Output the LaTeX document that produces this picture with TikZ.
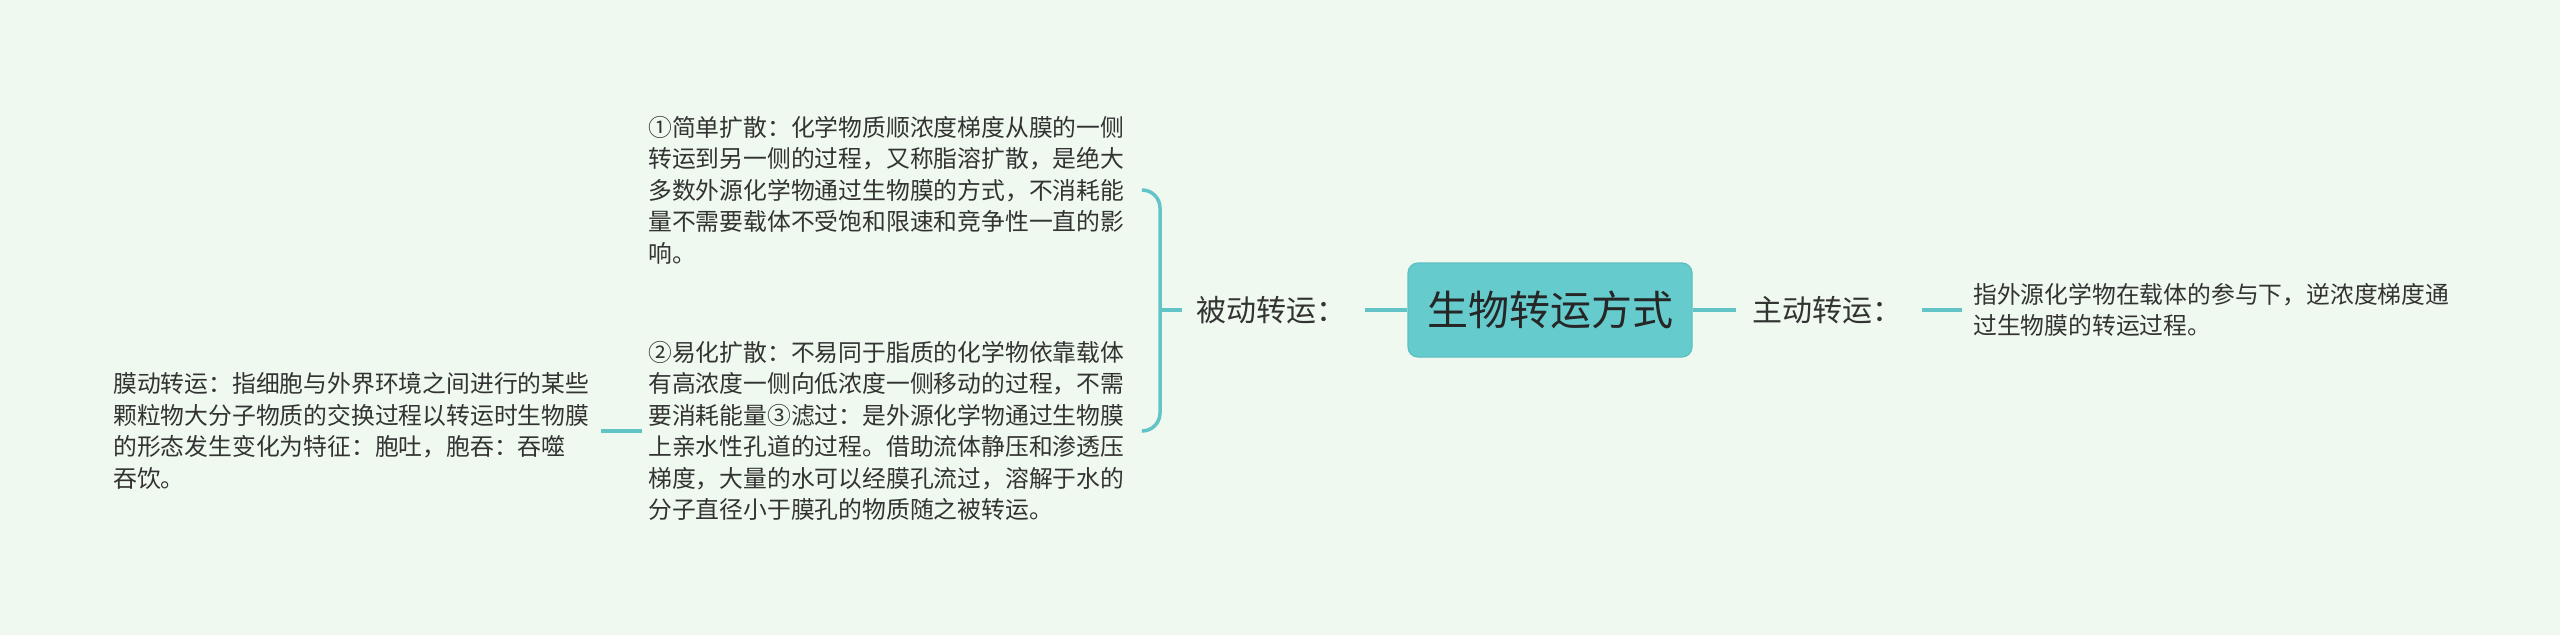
\documentclass[tikz,border=0pt]{standalone}
\usepackage{fontspec}
\setmainfont{Noto Sans CJK SC}
\definecolor{bgc}{HTML}{EFF9EF}
\definecolor{linec}{HTML}{63C4C8}
\definecolor{rootfill}{HTML}{66CBCD}
\definecolor{rootdraw}{HTML}{5CC0C3}
\definecolor{txt}{HTML}{333333}
\begin{document}
\begin{tikzpicture}[x=1pt,y=-1pt,
  conn/.style={draw=linec, line width=3.5pt},
  body/.style={inner sep=0pt, align=left, text=txt, font=\fontsize{23.8}{31.5}\selectfont},
  branch/.style={inner sep=0pt, text=txt, font=\fontsize{30}{36}\selectfont},
  rootbox/.style={fill=rootfill, draw=rootdraw, line width=1.2pt, rounded corners=10pt,
    minimum width=284pt, minimum height=94pt, inner sep=0pt, text=black!85,
    font=\fontsize{41}{48}\selectfont}
]
\fill[bgc] (0,0) rectangle (2560,635);
\useasboundingbox (0,0) rectangle (2560,635);

\node[rootbox] (root) at (1550,310) {生物转运方式};
\node[branch, anchor=west] (passive) at (1196,310) {被动转运：};
\node[branch, anchor=west] (active) at (1752,310) {主动转运：};

\node[body, anchor=west] (t1) at (648,190) {①简单扩散：化学物质顺浓度梯度从膜的一侧\\转运到另一侧的过程，又称脂溶扩散，是绝大\\多数外源化学物通过生物膜的方式，不消耗能\\量不需要载体不受饱和限速和竞争性一直的影\\响。};
\node[body, anchor=west] (t2) at (648,431) {②易化扩散：不易同于脂质的化学物依靠载体\\有高浓度一侧向低浓度一侧移动的过程，不需\\要消耗能量③滤过：是外源化学物通过生物膜\\上亲水性孔道的过程。借助流体静压和渗透压\\梯度，大量的水可以经膜孔流过，溶解于水的\\分子直径小于膜孔的物质随之被转运。};
\node[body, anchor=west] (left) at (113,431) {膜动转运：指细胞与外界环境之间进行的某些\\颗粒物大分子物质的交换过程以转运时生物膜\\的形态发生变化为特征：胞吐，胞吞：吞噬\\吞饮。};
\node[body, anchor=west] (right) at (1973,310) {指外源化学物在载体的参与下，逆浓度梯度通\\过生物膜的转运过程。};

\coordinate (bj) at (1160,310);
\draw[conn] ([xshift=19pt]passive.east) -- (root.west);
\draw[conn] (root.east) -- ([xshift=-16pt]active.west);
\draw[conn] ([xshift=20pt]active.east) -- ([xshift=-11pt]right.west);
\draw[conn] ([xshift=-14pt]passive.west) -- (bj);
\draw[conn, rounded corners=18pt] ([xshift=18pt]t1.east) -| (bj) |- ([xshift=18pt]t2.east);
\draw[conn] ([xshift=12pt]left.east) -- ([xshift=-6pt]t2.west);
\end{tikzpicture}
\end{document}
